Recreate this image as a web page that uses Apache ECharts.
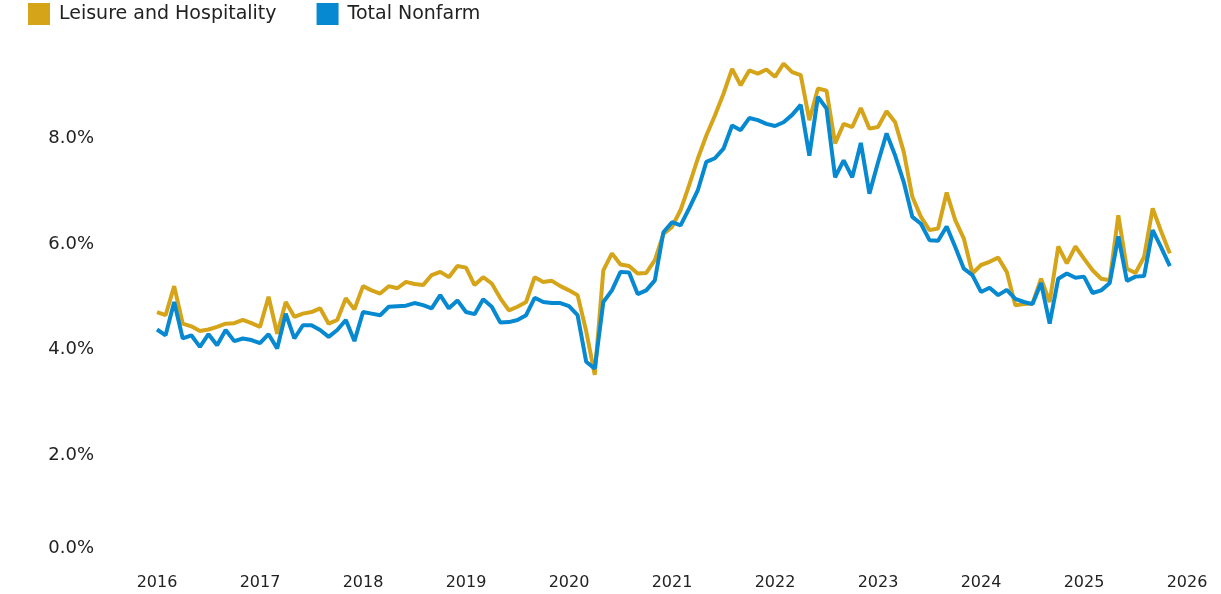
<!DOCTYPE html>
<html>
<head>
<meta charset="utf-8">
<script src="https://cdn.jsdelivr.net/npm/echarts@6/dist/echarts.min.js"></script>
<style>
  html, body { margin: 0; padding: 0; background: #fff; }
  #main { width: 1221px; height: 594px; }
</style>
</head>
<body>
<div id="main"></div>
<script>
// monthly, Jan 2016 .. Nov 2025
var startYear = 2016;
var seriesNames = ['Leisure and Hospitality', 'Total Nonfarm'];
var yearTicks = [2016, 2017, 2018, 2019, 2020, 2021, 2022, 2023, 2024, 2025, 2026];
var percentTicks = [0, 2, 4, 6, 8];

var leisure = [
    4.71, 4.65, 5.20, 4.49, 4.44, 4.35, 4.38, 4.43, 4.49, 4.50, 4.56, 4.50,
    4.43, 5.00, 4.30, 4.90, 4.62, 4.68, 4.71, 4.78, 4.49, 4.56, 4.97, 4.76,
    5.20, 5.12, 5.06, 5.20, 5.16, 5.28, 5.24, 5.22, 5.41, 5.47, 5.37, 5.58,
    5.55, 5.22, 5.37, 5.25, 4.97, 4.74, 4.81, 4.90, 5.37, 5.28, 5.30, 5.20,
    5.12, 5.03, 4.35, 3.52, 5.50, 5.82, 5.61, 5.58, 5.44, 5.45, 5.69, 6.19,
    6.32, 6.64, 7.11, 7.61, 8.05, 8.43, 8.84, 9.31, 9.00, 9.28, 9.22, 9.30,
    9.16, 9.41, 9.25, 9.19, 8.34, 8.94, 8.90, 7.90, 8.27, 8.21, 8.57, 8.18,
    8.21, 8.51, 8.30, 7.74, 6.89, 6.51, 6.26, 6.29, 6.97, 6.45, 6.10, 5.44,
    5.60, 5.66, 5.74, 5.47, 4.84, 4.86, 4.87, 5.34, 4.90, 5.95, 5.63, 5.95,
    5.72, 5.50, 5.34, 5.31, 6.54, 5.53, 5.45, 5.75, 6.67, 6.23, 5.82
];

var nonfarm = [
    4.38, 4.27, 4.90, 4.21, 4.27, 4.05, 4.29, 4.08, 4.37, 4.16, 4.21, 4.18,
    4.12, 4.29, 4.02, 4.68, 4.21, 4.46, 4.46, 4.37, 4.24, 4.37, 4.56, 4.16,
    4.71, 4.68, 4.65, 4.81, 4.82, 4.83, 4.88, 4.84, 4.78, 5.03, 4.78, 4.93,
    4.71, 4.67, 4.95, 4.81, 4.51, 4.52, 4.56, 4.65, 4.98, 4.90, 4.88, 4.88,
    4.82, 4.65, 3.77, 3.64, 4.90, 5.12, 5.47, 5.46, 5.05, 5.12, 5.31, 6.22,
    6.41, 6.35, 6.67, 7.01, 7.55, 7.62, 7.80, 8.24, 8.15, 8.38, 8.34, 8.27,
    8.23, 8.30, 8.44, 8.63, 7.67, 8.78, 8.56, 7.26, 7.58, 7.26, 7.91, 6.95,
    7.54, 8.09, 7.67, 7.17, 6.51, 6.38, 6.07, 6.06, 6.33, 5.94, 5.53, 5.41,
    5.09, 5.17, 5.03, 5.13, 4.96, 4.90, 4.86, 5.26, 4.49, 5.34, 5.44, 5.36,
    5.38, 5.07, 5.12, 5.26, 6.14, 5.30, 5.38, 5.39, 6.26, 5.93, 5.58
];

var colors = ['#D5A419', '#0689D0'];

var chartDom = document.getElementById('main');
var myChart = echarts.init(chartDom);

function toPoints(values) {
    return values.map(function (v, i) {
        return [startYear + i / 12, v];
    });
}

var option = {
    animation: false,
    textStyle: { fontFamily: 'DejaVu Sans' },
    color: colors,
    legend: {
        left: 28,
        top: 3,
        padding: 0,
        icon: 'rect',
        itemWidth: 22,
        itemHeight: 22,
        itemGap: 40,
        textStyle: {
            fontFamily: 'DejaVu Sans',
            fontSize: 19,
            color: '#222',
            padding: [0, 0, 0, 4]
        },
        data: seriesNames
    },
    grid: {
        left: 157,
        right: 34,
        top: 43,
        bottom: 33
    },
    xAxis: {
        type: 'value',
        min: yearTicks[0],
        max: yearTicks[yearTicks.length - 1],
        interval: 1,
        axisLine: { show: false },
        axisTick: { show: false },
        splitLine: { show: false },
        axisLabel: {
            margin: 14,
            fontSize: 16,
            color: '#222',
            formatter: function (v) { return String(Math.round(v)); }
        }
    },
    yAxis: {
        type: 'value',
        min: percentTicks[0],
        max: 9.8,
        interval: 2,
        axisLine: { show: false },
        axisTick: { show: false },
        splitLine: { show: false },
        axisLabel: {
            margin: 63,
            fontSize: 18,
            color: '#222',
            showMaxLabel: false,
            lineHeight: 16,
            rich: { gap: { lineHeight: 26 } },
            formatter: function (v) {
                if (percentTicks.indexOf(v) < 0) return '';
                // bottom label sits a bit higher in the original
                if (v === 0) return '0.0%\n{gap| }';
                return v.toFixed(1) + '%';
            }
        }
    },
    series: [
        {
            name: seriesNames[0],
            type: 'line',
            showSymbol: false,
            lineStyle: { width: 4, color: colors[0] },
            data: toPoints(leisure)
        },
        {
            name: seriesNames[1],
            type: 'line',
            showSymbol: false,
            lineStyle: { width: 4, color: colors[1] },
            data: toPoints(nonfarm)
        }
    ]
};

myChart.setOption(option);
</script>
</body>
</html>
